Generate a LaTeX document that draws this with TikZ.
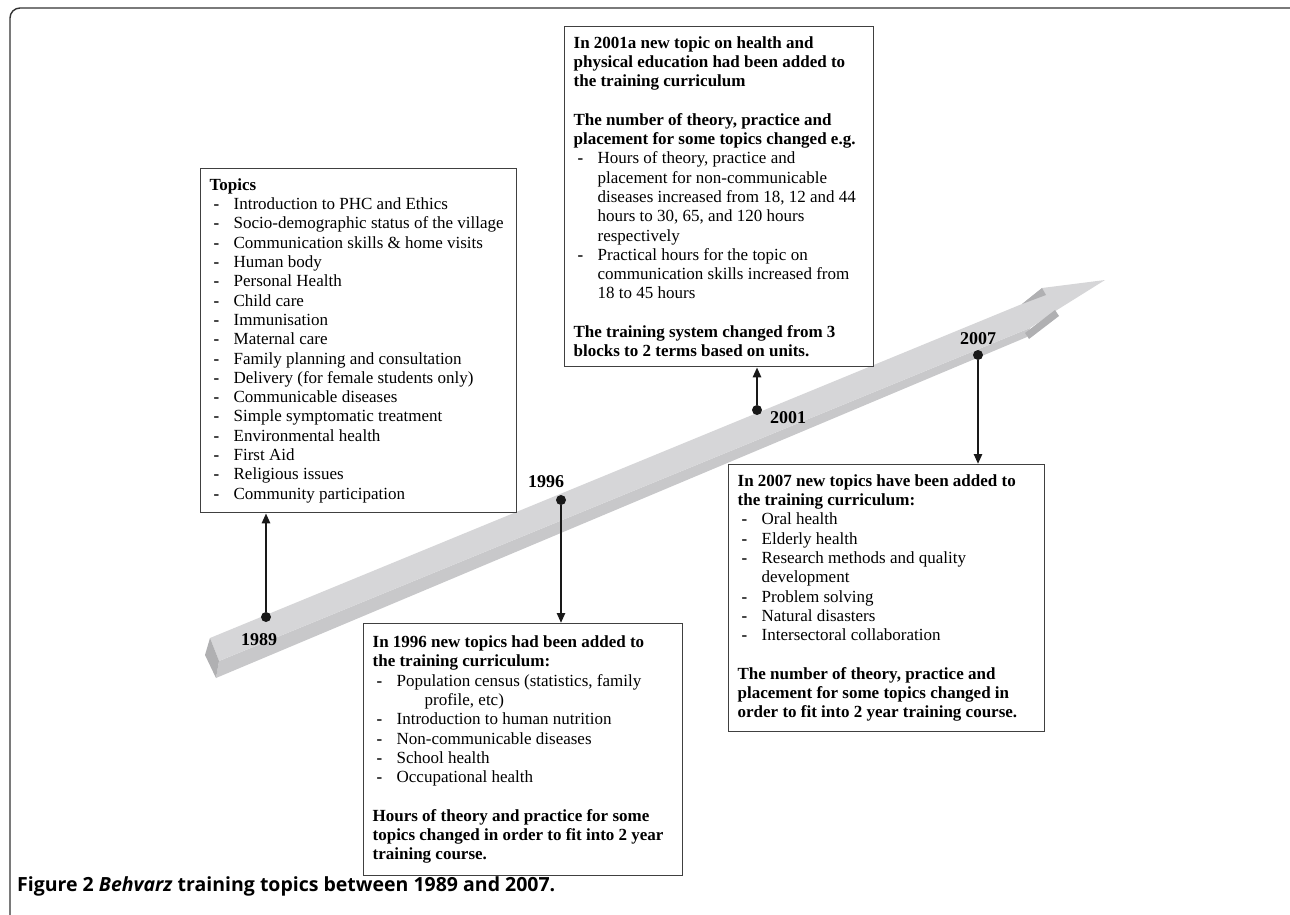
\documentclass[tikz,border=0pt]{standalone}
\usepackage{fontspec}
\setmainfont{Liberation Serif}
\newfontfamily\capfont{Open Sans}
\usetikzlibrary{arrows.meta}

\definecolor{shafttop}{HTML}{D6D6D8}
\definecolor{shaftside}{HTML}{C8C8CA}
\definecolor{shaftdark}{HTML}{B0B0B2}

\newcommand{\dsh}{\hspace*{4pt}\makebox[20pt][l]{\textbf{-}}}
\newcommand{\cnt}{\hspace*{24pt}}
\newcommand{\wln}[2]{\makebox[#1][l]{#2}}

\begin{document}
\begin{tikzpicture}[x=1pt, y=-1pt,
    box/.style={draw=black!75, line width=1.3pt, fill=white, align=left, anchor=north west,
        inner xsep=9pt, inner ysep=0pt, font=\fontsize{17}{19.3}\selectfont},
    yearlbl/.style={font=\fontsize{18}{18}\selectfont\bfseries, inner sep=0pt},
    yeardot/.style={circle, fill=black!90, inner sep=0pt, minimum size=10pt},
    conn/.style={line width=2.4pt, black!90, -{Triangle[length=10pt,width=8pt]}}]
    \useasboundingbox (0,0) rectangle (1290,915);

    \draw[black!80, line width=1.4pt, rounded corners=10pt] (10,930) -- (10,8) -- (1300,8);

    \fill[shaftside] (219,661) -- (1030,328) -- (1027,337) -- (216,678) -- cycle;
    \fill[shafttop] (210,638) -- (1022,304) -- (1042,288) -- (1105,280) -- (1057,310)
        -- (1030,328) -- (219,661) -- cycle;
    \fill[shaftdark] (210,638) -- (219,661) -- (216,678) -- (205,655) -- cycle;
    \fill[shaftdark] (1022,304) -- (1042,288) -- (1046,295) -- cycle;
    \fill[shaftdark] (1025,333) -- (1055,310) -- (1059,316) -- (1029,339) -- cycle;

    \node[box, minimum height=344pt] (topics) at (200,168) {
        \wln{298pt}{\textbf{Topics}}\\
        \dsh Introduction to PHC and Ethics\\
        \dsh Socio-demographic status of the village\\
        \dsh Communication skills \& home visits\\
        \dsh Human body\\
        \dsh Personal Health\\
        \dsh Child care\\
        \dsh Immunisation\\
        \dsh Maternal care\\
        \dsh Family planning and consultation\\
        \dsh Delivery (for female students only)\\
        \dsh Communicable diseases\\
        \dsh Simple symptomatic treatment\\
        \dsh Environmental health\\
        \dsh First Aid\\
        \dsh Religious issues\\
        \dsh Community participation
    };

    \node[box, minimum height=340pt] (y2001) at (564,26) {
        \wln{291pt}{\textbf{In 2001a new topic on health and}}\\
        \textbf{physical education had been added to}\\
        \textbf{the training curriculum}\\[19.3pt]
        \textbf{The number of theory, practice and}\\
        \textbf{placement for some topics changed e.g.}\\
        \dsh Hours of theory, practice and\\
        \cnt placement for non-communicable\\
        \cnt diseases increased from 18, 12 and 44\\
        \cnt hours to 30, 65, and 120 hours\\
        \cnt respectively\\
        \dsh Practical hours for the topic on\\
        \cnt communication skills increased from\\
        \cnt 18 to 45 hours\\[19.3pt]
        \textbf{The training system changed from 3}\\
        \textbf{blocks to 2 terms based on units.}
    };

    \node[box, minimum height=252pt] (y1996) at (363,623) {
        \wln{301pt}{\textbf{In 1996 new topics had been added to}}\\
        \textbf{the training curriculum:}\\
        \dsh Population census (statistics, family\\
        \hspace*{52pt}profile, etc)\\
        \dsh Introduction to human nutrition\\
        \dsh Non-communicable diseases\\
        \dsh School health\\
        \dsh Occupational health\\[19.3pt]
        \textbf{Hours of theory and practice for some}\\
        \textbf{topics changed in order to fit into 2 year}\\
        \textbf{training course.}
    };

    \node[box, minimum height=267pt] (y2007) at (728,464) {
        \wln{298pt}{\textbf{In 2007 new topics have been added to}}\\
        \textbf{the training curriculum:}\\
        \dsh Oral health\\
        \dsh Elderly health\\
        \dsh Research methods and quality\\
        \cnt development\\
        \dsh Problem solving\\
        \dsh Natural disasters\\
        \dsh Intersectoral collaboration\\[19.3pt]
        \textbf{The number of theory, practice and}\\
        \textbf{placement for some topics changed in}\\
        \textbf{order to fit into 2 year training course.}
    };

    \node[yeardot] (d1989) at (266,617) {};
    \node[yeardot] (d1996) at (561,500) {};
    \node[yeardot] (d2001) at (757,410) {};
    \node[yeardot] (d2007) at (978,355) {};

    \node[yearlbl] (l1989) at (259,640) {1989};
    \node[yearlbl] (l1996) at (546,482) {1996};
    \node[yearlbl] (l2001) at (788,418) {2001};
    \node[yearlbl] (l2007) at (978,339) {2007};

    \draw[conn] (d1989) -- (topics.south -| d1989);
    \draw[conn] (d1996) -- (y1996.north -| d1996);
    \draw[conn] (d2001) -- (y2001.south -| d2001);
    \draw[conn] (d2007) -- (y2007.north -| d2007);

    \node[anchor=base west, inner sep=0pt, font=\capfont\fontsize{19.5}{21}\selectfont\bfseries] (caption) at (17,891)
        {Figure 2 \textit{Behvarz} training topics between 1989 and 2007.};
\end{tikzpicture}
\end{document}
